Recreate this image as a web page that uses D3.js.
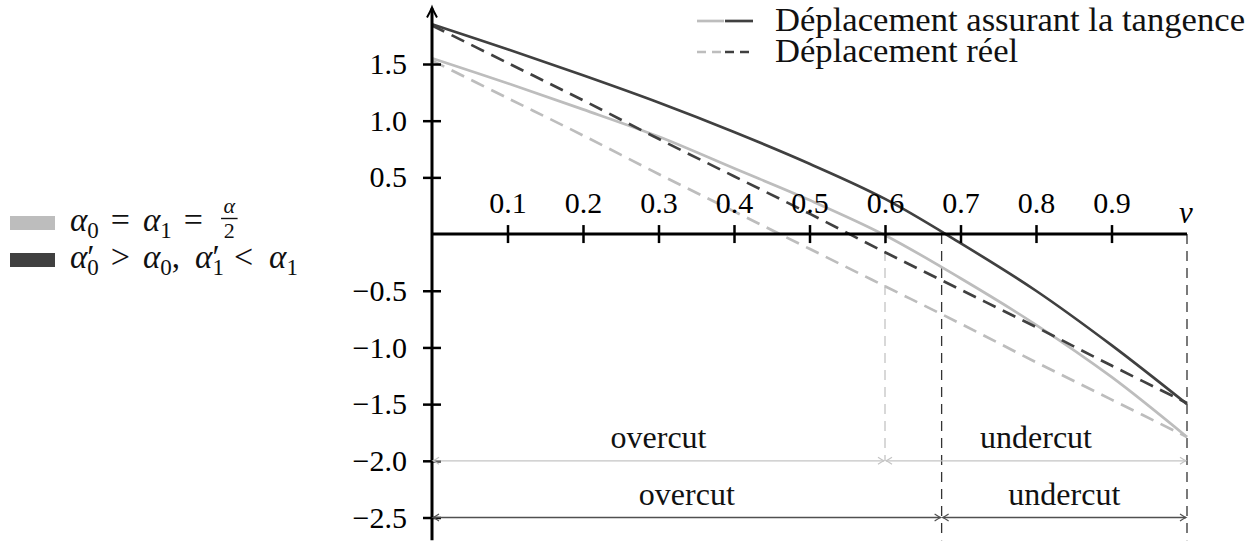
<!DOCTYPE html>
<html><head><meta charset="utf-8">
<script src="https://cdn.jsdelivr.net/npm/d3@7"></script>
<style>
html,body{margin:0;padding:0;background:#fff;}
svg{display:block;font-family:"Liberation Serif","Times New Roman",serif;}
text{white-space:pre;}
</style></head><body>
<svg id="chart" width="1250" height="545"></svg>
<script>
// ---------- data ----------
const vValues        = [0, 0.1, 0.2, 0.3, 0.4, 0.5, 0.6, 0.7, 0.8, 0.9, 1.0];
const tangenceEqual  = [1.55, 1.33, 1.10, 0.86, 0.58, 0.30, -0.01, -0.39, -0.80, -1.26, -1.79];
const tangenceShift  = [1.85, 1.63, 1.40, 1.16, 0.90, 0.62, 0.31, -0.08, -0.50, -0.98, -1.50];
const reelEqual      = [1.53, 1.20, 0.87, 0.53, 0.20, -0.13, -0.46, -0.79, -1.13, -1.46, -1.79];
const reelShift      = [1.84, 1.51, 1.18, 0.84, 0.51, 0.18, -0.16, -0.49, -0.82, -1.16, -1.49];
const xTickValues    = [0.1, 0.2, 0.3, 0.4, 0.5, 0.6, 0.7, 0.8, 0.9];
const yTickValues    = [-2.5, -2.0, -1.5, -1.0, -0.5, 0.5, 1.0, 1.5];
const crossEqual     = 0.6;
const crossShift     = 0.675;
const zoneNames      = ["overcut", "undercut"];
const seriesNames    = ["Déplacement assurant la tangence", "Déplacement réel"];
const axisLabelX     = "v";

// ---------- setup ----------
const LIGHT = "#bdbdbd", DARK = "#404040";
const svg = d3.select("#chart");
const x = d3.scaleLinear().domain([0, 1]).range([432, 1187]);
const y = d3.scaleLinear().domain([-2.5, 1.5]).range([517.5, 64]);
const FS = 30;

// markers for double arrows
const defs = svg.append("defs");
function marker(id, color) {
  const m = defs.append("marker").attr("id", id)
    .attr("viewBox", "-9 -6 11 12").attr("refX", 0).attr("refY", 0)
    .attr("markerWidth", 11).attr("markerHeight", 12)
    .attr("markerUnits", "userSpaceOnUse").attr("orient", "auto-start-reverse");
  m.append("path").attr("d", "M-6,-3.5 Q-2,-0.8 0,0 Q-2,0.8 -6,3.5")
    .attr("fill", "none").attr("stroke", color).attr("stroke-width", 1.2);
}
marker("arrLight", "#c4c4c4");
marker("arrDark", "#505050");

// ---------- vertical dashed guides ----------
const guides = [
  {v: crossEqual, to: -2.0, color: "#c4c4c4"},
  {v: crossShift, to: -2.7, color: "#333"},
  {v: 1.0, to: -2.7, color: "#333"}
];
svg.append("g").selectAll("line").data(guides).join("line")
  .attr("x1", d => x(d.v)).attr("x2", d => x(d.v))
  .attr("y1", y(0)).attr("y2", d => y(d.to))
  .attr("stroke", d => d.color).attr("stroke-width", 1.3)
  .attr("stroke-dasharray", "10,7");

// ---------- curves ----------
const line = d3.line().x(d => x(d[0])).y(d => y(d[1])).curve(d3.curveCatmullRom.alpha(0.5));
const series = [
  {vals: reelEqual, color: LIGHT, dash: "14,8"},
  {vals: tangenceEqual, color: LIGHT, dash: null},
  {vals: reelShift, color: DARK, dash: "14,8"},
  {vals: tangenceShift, color: DARK, dash: null}
];
svg.append("g").selectAll("path").data(series).join("path")
  .attr("d", d => line(vValues.map((v, i) => [v, d.vals[i]])))
  .attr("fill", "none").attr("stroke", d => d.color).attr("stroke-width", 2.7)
  .attr("stroke-dasharray", d => d.dash);

// ---------- axes ----------
const xAxis = svg.append("g").attr("transform", `translate(0,${y(0)})`)
  .call(d3.axisTop(x).tickValues(xTickValues).tickSize(9).tickSizeOuter(0)
        .tickPadding(12).tickFormat(d3.format(".1f")));
xAxis.select(".domain").remove();
xAxis.attr("font-family", null).attr("font-size", null);
xAxis.selectAll(".tick line").attr("y1", 9).attr("stroke", "#000").attr("stroke-width", 2.5);
xAxis.selectAll(".tick text").attr("font-size", FS).attr("fill", "#000");

const yAxis = svg.append("g").attr("transform", `translate(${x(0)},0)`)
  .call(d3.axisLeft(y).tickValues(yTickValues).tickSize(9)
        .tickPadding(16).tickFormat(d3.format(".1f")));
yAxis.select(".domain").remove();
yAxis.attr("font-family", null).attr("font-size", null);
yAxis.selectAll(".tick line").attr("x1", 9).attr("stroke", "#000").attr("stroke-width", 2.5);
yAxis.selectAll(".tick text").attr("font-size", FS).attr("fill", "#000");

// axis lines
svg.append("line").attr("x1", x(0)).attr("x2", x(1)).attr("y1", y(0)).attr("y2", y(0))
  .attr("stroke", "#000").attr("stroke-width", 3);
svg.append("line").attr("x1", x(0)).attr("x2", x(0)).attr("y1", y(-2.7)).attr("y2", y(1.99))
  .attr("stroke", "#000").attr("stroke-width", 3);
const tipX = x(0), tipY = y(1.99) - 1;
svg.append("path")
  .attr("d", `M${tipX-5},${tipY+10} Q${tipX-1.5},${tipY+4} ${tipX},${tipY} Q${tipX+1.5},${tipY+4} ${tipX+5},${tipY+10}`)
  .attr("fill", "none").attr("stroke", "#000").attr("stroke-width", 2);

svg.append("text").attr("x", x(1) - 1).attr("y", y(0) - 11)
  .attr("text-anchor", "middle").attr("font-size", 31).attr("font-style", "italic")
  .text(axisLabelX);

// ---------- overcut / undercut ----------
const zoneRows = [
  {cross: crossEqual, level: -2.0, color: "#c4c4c4", marker: "arrLight"},
  {cross: crossShift, level: -2.5, color: "#505050", marker: "arrDark"}
];
zoneRows.forEach(r => {
  const segs = [[0, r.cross], [r.cross, 1]];
  segs.forEach((s, i) => {
    svg.append("line").attr("x1", x(s[0]) + 1).attr("x2", x(s[1]) - 1)
      .attr("y1", y(r.level)).attr("y2", y(r.level))
      .attr("stroke", r.color).attr("stroke-width", 1.3)
      .attr("marker-start", `url(#${r.marker})`).attr("marker-end", `url(#${r.marker})`);
    svg.append("text").attr("x", (x(s[0]) + x(s[1])) / 2).attr("y", y(r.level) - 13)
      .attr("text-anchor", "middle").attr("font-size", 32).attr("fill", "#111")
      .text(zoneNames[i]);
  });
});

// ---------- top-right legend ----------
const legRows = [{dash: null, base: 31}, {dash: "9,6", base: 62}];
let legStretch = null;
legRows.forEach((r, i) => {
  const ly = r.base - 10;
  svg.append("line").attr("x1", 697).attr("x2", 724).attr("y1", ly).attr("y2", ly)
    .attr("stroke", LIGHT).attr("stroke-width", 2.7).attr("stroke-dasharray", r.dash);
  svg.append("line").attr("x1", 725).attr("x2", 753).attr("y1", ly).attr("y2", ly)
    .attr("stroke", DARK).attr("stroke-width", 2.7).attr("stroke-dasharray", r.dash);
  const t = svg.append("text").attr("x", 775).attr("y", r.base).attr("font-size", 33)
    .attr("fill", "#111").text(seriesNames[i]);
  const L = t.node().getComputedTextLength();
  if (legStretch === null) legStretch = 470 / L;
  t.attr("textLength", L * legStretch).attr("lengthAdjust", "spacingAndGlyphs");
});

// ---------- left legend (math) ----------
svg.append("rect").attr("x", 10).attr("y", 216).attr("width", 45).attr("height", 14).attr("fill", LIGHT);
svg.append("rect").attr("x", 10).attr("y", 253).attr("width", 45).attr("height", 14).attr("fill", DARK);

const MS = 33, SS = 23;
function measure(str, size, italic) {
  const t = svg.append("text").attr("font-size", size)
    .attr("font-style", italic ? "italic" : null).text(str);
  const w = t.node().getComputedTextLength();
  t.remove();
  return w;
}
function mathRow(x0, base, items) {
  let cx = x0;
  const g = svg.append("g").attr("fill", "#111");
  items.forEach(it => {
    if (it.gap !== undefined) { cx += it.gap; return; }
    if (it.frac) {
      const n = g.append("text").attr("font-size", 22).attr("font-style", "italic")
        .attr("text-anchor", "middle").text(it.frac[0]);
      const dnm = g.append("text").attr("font-size", 22)
        .attr("text-anchor", "middle").text(it.frac[1]);
      const w = Math.max(n.node().getComputedTextLength(), dnm.node().getComputedTextLength()) + 5;
      n.attr("x", cx + w / 2).attr("y", base - 18);
      dnm.attr("x", cx + w / 2).attr("y", base + 7);
      g.append("line").attr("x1", cx).attr("x2", cx + w).attr("y1", base - 12.5).attr("y2", base - 12.5)
        .attr("stroke", "#111").attr("stroke-width", 1.4);
      cx += w;
      return;
    }
    const size = it.size || MS;
    const t = g.append("text").attr("x", cx).attr("y", base);
    t.append("tspan").attr("font-size", size).attr("font-style", it.it ? "italic" : null).text(it.t);
    let adv = measure(it.t, size, it.it);
    if (it.prime) {
      const pw = measure("′", MS), sw = measure(it.sub, SS);
      t.append("tspan").attr("font-size", MS).text("′");
      t.append("tspan").attr("font-size", SS).attr("dx", -pw).attr("dy", 7).text(it.sub);
      adv += Math.max(pw, sw);
    } else if (it.sub) {
      t.append("tspan").attr("font-size", SS).attr("dy", 7).text(it.sub);
      adv += measure(it.sub, SS);
    }
    cx += adv;
  });
}
const alpha = "α";
mathRow(70, 231, [
  {t: alpha, it: true, sub: "0"}, {gap: 12}, {t: "=", size: 34}, {gap: 13},
  {t: alpha, it: true, sub: "1"}, {gap: 12}, {t: "=", size: 34}, {gap: 18},
  {frac: [alpha, "2"]}
]);
mathRow(70, 267.5, [
  {t: alpha, it: true, prime: true, sub: "0"}, {gap: 12}, {t: ">", size: 34}, {gap: 13},
  {t: alpha, it: true, sub: "0"}, {t: ",", size: MS}, {gap: 15},
  {t: alpha, it: true, prime: true, sub: "1"}, {gap: 10}, {t: "<", size: 34}, {gap: 16},
  {t: alpha, it: true, sub: "1"}
]);
</script>
</body></html>
